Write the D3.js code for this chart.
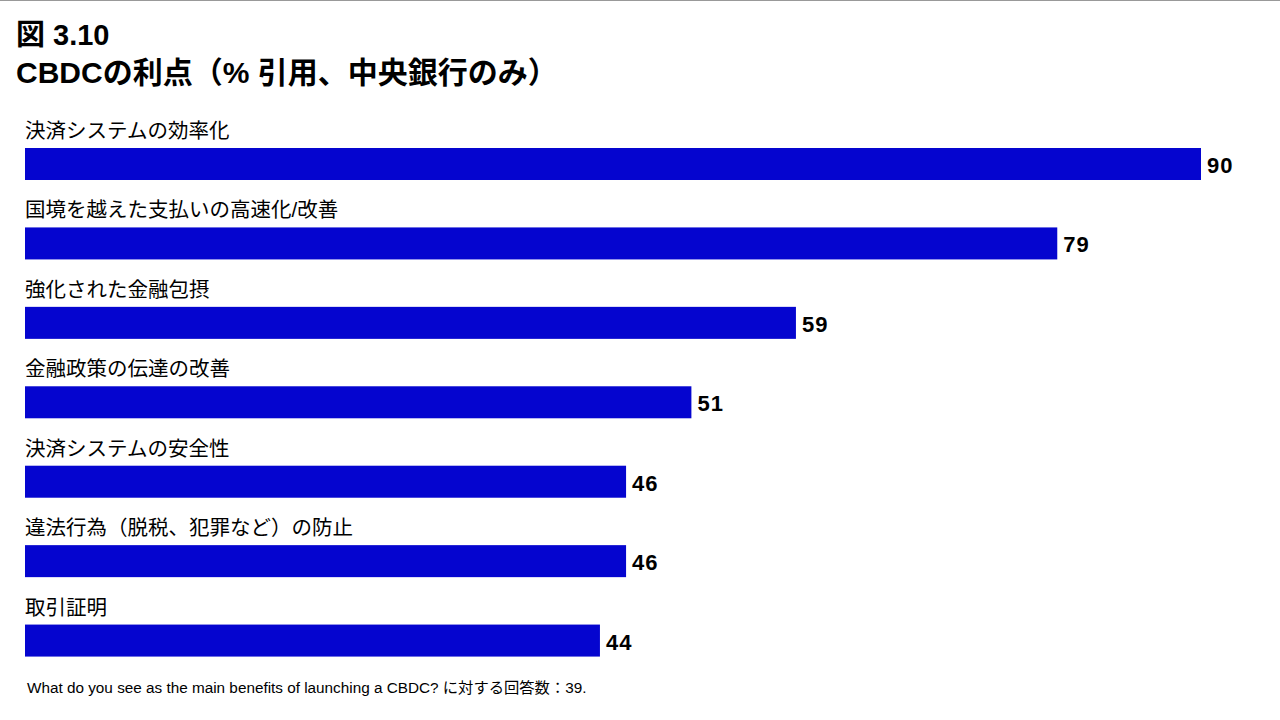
<!DOCTYPE html>
<html><head><meta charset="utf-8">
<script src="https://cdn.jsdelivr.net/npm/d3@7"></script>
<style>body{margin:0;background:#fff}svg{display:block}</style>
</head><body><svg id="c" width="1280" height="720"></svg>
<script>
const categories=["決済システムの効率化","国境を越えた支払いの高速化/改善","強化された金融包摂","金融政策の伝達の改善","決済システムの安全性","違法行為（脱税、犯罪など）の防止","取引証明"];
const values=[90,79,59,51,46,46,44];
const titleLines=["図 3.10","CBDCの利点（% 引用、中央銀行のみ）"];
const footnote="What do you see as the main benefits of launching a CBDC? に対する回答数：39.";
const font="'Liberation Sans','Noto Sans CJK JP',sans-serif";
const svg=d3.select("#c");
svg.append("line").attr("x1",0).attr("x2",1280).attr("y1",0.5).attr("y2",0.5).attr("stroke","#999");
svg.selectAll(".t").data(titleLines).join("text").attr("x",16).attr("y",(d,i)=>45+i*38)
 .attr("font-family",font).attr("font-weight","bold").attr("font-size",(d,i)=>i?30:29).attr("fill","#000").text(d=>d);
const x=d3.scaleLinear().domain([0,90]).range([25,1201]);
const y=d3.scaleBand().domain(categories).range([116,672]).paddingInner(0);
const g=svg.append("g");
categories.forEach((c,i)=>{
 const y0=y(c);
 g.append("text").attr("x",25).attr("y",y0+22).attr("font-family",font).attr("font-size",20.5).attr("fill","#000").text(c);
 g.append("rect").attr("x",x(0)).attr("y",y0+32).attr("width",x(values[i])-x(0)).attr("height",32).attr("fill","#0505cf");
 g.append("text").attr("x",x(values[i])+6).attr("y",y0+57).attr("font-family",font).attr("font-weight","bold").attr("font-size",22).attr("letter-spacing",1).attr("fill","#000").text(values[i]);
});
svg.append("text").attr("x",27).attr("y",693).attr("font-family",font).attr("font-size",15.3).attr("fill","#000").text(footnote);
</script></body></html>
